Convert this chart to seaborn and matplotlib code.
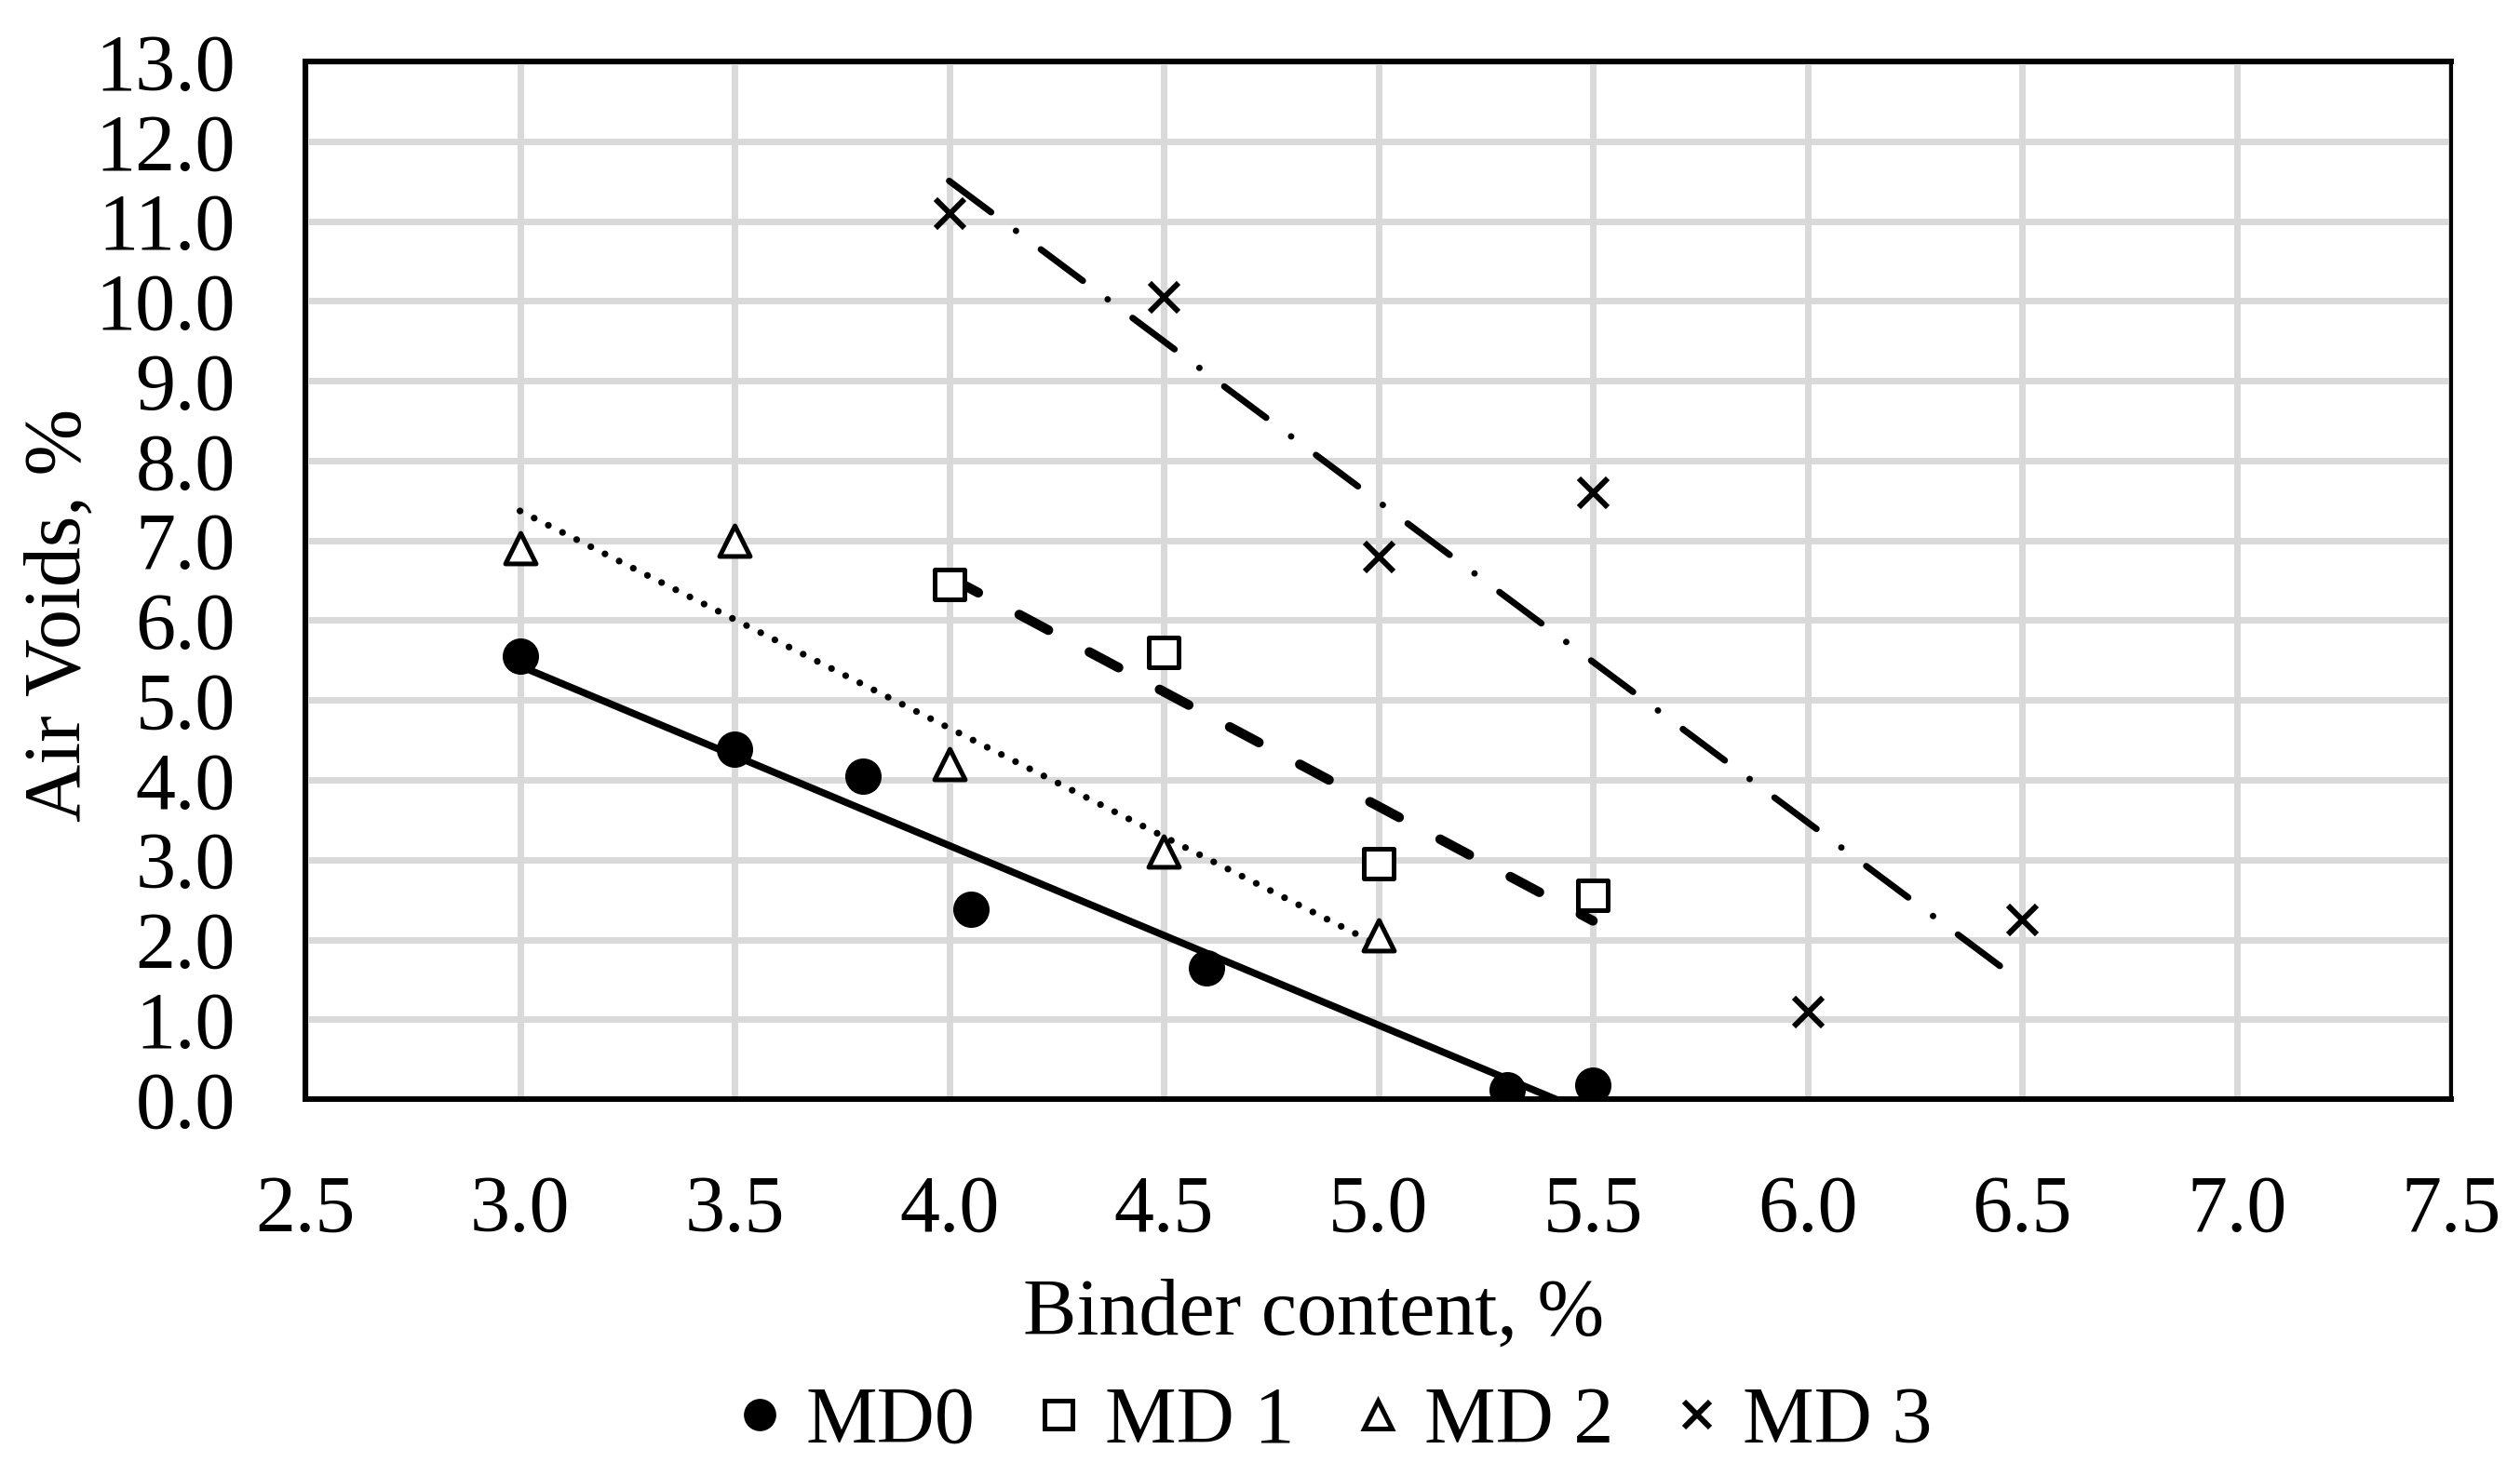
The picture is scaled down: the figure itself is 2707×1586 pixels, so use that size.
import numpy as np
import pandas as pd
import matplotlib
matplotlib.use("Agg")
import matplotlib.pyplot as plt
from matplotlib.lines import Line2D
from matplotlib.ticker import MultipleLocator, FormatStrFormatter
import seaborn as sns

# binder content (%) and air voids (%) per mix
md0_x = [3.0, 3.5, 3.8, 4.05, 4.6, 5.3, 5.5]
md0_y = [5.55, 4.38, 4.05, 2.38, 1.65, 0.12, 0.18]
md1_x = [4.0, 4.5, 5.0, 5.5]
md1_y = [6.45, 5.6, 2.95, 2.55]
md2_x = [3.0, 3.5, 4.0, 4.5, 5.0]
md2_y = [6.9, 7.0, 4.2, 3.1, 2.05]
md3_x = [4.0, 4.5, 5.0, 5.5, 6.0, 6.5]
md3_y = [11.1, 10.05, 6.8, 7.6, 1.1, 2.25]
labels = ["MD0", "MD 1", "MD 2", "MD 3"]

sns.set_style("white")
plt.rcParams['font.family'] = ['Liberation Serif', 'DejaVu Serif']
for key in ['text.color', 'axes.labelcolor', 'xtick.color', 'ytick.color']:
    plt.rcParams[key] = 'black'
FS = 62

fig = plt.figure(figsize=(27.07, 15.86), dpi=100)
ax = fig.add_axes([0.1212, 0.2553, 0.8515, 0.703])

series = [
    (md0_x, md0_y, dict(marker='o', s=790, color='black', edgecolor='black', linewidth=0),
     dict(color='black', linewidth=5.5, linestyle='-')),
    (md1_x, md1_y, dict(marker='s', s=530, facecolor='white', edgecolor='black', linewidth=3.6),
     dict(color='black', linewidth=7.5, linestyle=(0, (3.4, 4.8)), dash_capstyle='round')),
    (md2_x, md2_y, dict(marker='^', s=560, facecolor='white', edgecolor='black', linewidth=3.6),
     dict(color='black', linewidth=5.2, linestyle=(0, (0.01, 2.35)), dash_capstyle='round')),
    (md3_x, md3_y, dict(marker='x', s=500, color='black', linewidth=4.3),
     dict(color='black', linewidth=5, linestyle=(0, (8.1, 4.8, 0.01, 4.8)), dash_capstyle='round')),
]

for (xs, ys, mkw, lkw), lab in zip(series, labels):
    df = pd.DataFrame({"binder": xs, "voids": ys})
    sns.regplot(data=df, x="binder", y="voids", ax=ax, ci=None, scatter=False,
                truncate=True, line_kws=lkw)
    sns.scatterplot(data=df, x="binder", y="voids", ax=ax, zorder=5, legend=False, **mkw)

ax.set_xlim(2.5, 7.5)
ax.set_ylim(0, 13)
ax.xaxis.set_major_locator(MultipleLocator(0.5))
ax.xaxis.set_minor_locator(MultipleLocator(0.1))
ax.yaxis.set_major_locator(MultipleLocator(1.0))
ax.yaxis.set_minor_locator(MultipleLocator(0.5))
ax.xaxis.set_major_formatter(FormatStrFormatter('%.1f'))
ax.yaxis.set_major_formatter(FormatStrFormatter('%.1f'))

ax.grid(True, which='major', color='#d9d9d9', lw=5)
ax.set_axisbelow(True)
for side in ['left', 'bottom', 'top']:
    ax.spines[side].set_color('black')
    ax.spines[side].set_linewidth(4.3)
ax.spines['right'].set_color('black')
ax.spines['right'].set_linewidth(3.0)

ax.tick_params(axis='x', which='major', direction='inout', length=40, width=4, labelsize=FS, pad=38)
ax.tick_params(axis='x', which='minor', direction='in', length=16, width=3.6)
ax.tick_params(axis='y', which='major', direction='inout', length=40, width=4, labelsize=FS, pad=34)
ax.tick_params(axis='y', which='minor', direction='in', length=16, width=3.6)

ax.set_xlabel("Binder content, %", fontsize=FS, va='center')
ax.xaxis.set_label_coords(0.47, -0.208)
ax.set_ylabel("Air Voids, %", fontsize=FS, va='center')
ax.yaxis.set_label_coords(-0.114, 0.467)

handles = [
    Line2D([], [], ls='none', marker='o', ms=24, color='black'),
    Line2D([], [], ls='none', marker='s', ms=21, mfc='white', mec='black', mew=3.6),
    Line2D([], [], ls='none', marker='^', ms=21, mfc='white', mec='black', mew=3.6),
    Line2D([], [], ls='none', marker='x', ms=20, color='black', mew=4.3),
]
fig.legend(handles, labels, loc='center', bbox_to_anchor=(0.527, 0.036), ncol=4, frameon=False,
           fontsize=FS, handletextpad=0.12, columnspacing=0.6, handlelength=0.9)

fig.savefig("out.png", dpi=100, facecolor='white')
